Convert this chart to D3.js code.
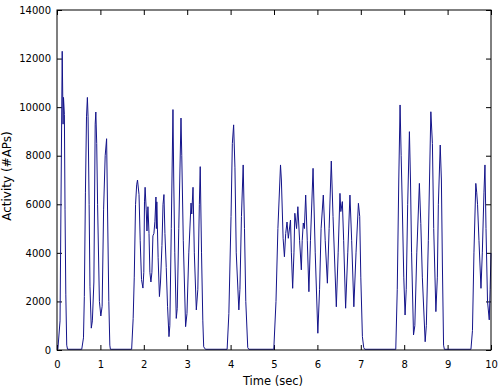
<!DOCTYPE html>
<html>
<head>
<meta charset="utf-8">
<script src="https://cdn.jsdelivr.net/npm/d3@7"></script>
<style>
  body { margin: 0; background: #fff; }
  text { font-family: "DejaVu Sans", Verdana, sans-serif; }
</style>
</head>
<body>
<div id="chart"></div>
<script>
// time in sec / activity in #APs
var timeSec = [0, 0.02, 0.07, 0.12, 0.14, 0.15, 0.17, 0.185, 0.203, 0.224, 0.243,
  0.57, 0.61, 0.63, 0.655, 0.68, 0.70, 0.716, 0.74, 0.76, 0.79, 0.815, 0.85, 0.88, 0.895, 0.915, 0.935, 0.977, 1.01, 1.04, 1.074, 1.11, 1.143, 1.166, 1.194, 1.217, 1.23,
  1.72, 1.755, 1.78, 1.81, 1.836, 1.855, 1.89, 1.917, 1.947, 1.98, 2.0, 2.016, 2.03, 2.055, 2.073, 2.095, 2.12, 2.14, 2.164, 2.187, 2.21, 2.233, 2.256, 2.28, 2.29, 2.30, 2.33, 2.36, 2.385, 2.418, 2.443, 2.464, 2.487, 2.517, 2.547, 2.58, 2.60, 2.633, 2.672, 2.69, 2.714, 2.748, 2.77, 2.806, 2.857, 2.875, 2.91, 2.963, 2.995, 3.037, 3.088, 3.105, 3.134, 3.164, 3.21, 3.245, 3.28, 3.30, 3.33, 3.36, 3.38, 3.42,
  3.92, 3.96, 4.01, 4.04, 4.07, 4.10, 4.13, 4.19, 4.215, 4.25, 4.29, 4.32, 4.35, 4.395, 4.42,
  4.995, 5.046, 5.09, 5.15, 5.17, 5.21, 5.24, 5.27, 5.30, 5.33, 5.38, 5.40, 5.43, 5.46, 5.48, 5.52, 5.55, 5.59, 5.63, 5.65, 5.675, 5.70, 5.73, 5.767, 5.804, 5.84, 5.90, 5.95, 6.01, 6.05, 6.085, 6.136, 6.18, 6.23, 6.27, 6.32, 6.36, 6.436, 6.478, 6.52, 6.54, 6.575, 6.605, 6.65, 6.70, 6.75, 6.79, 6.84, 6.89, 6.945, 6.975, 7.0, 7.037, 7.067, 7.09,
  7.806, 7.84, 7.875, 7.905, 7.93, 7.96, 7.99, 8.02, 8.047, 8.08, 8.12, 8.145, 8.17, 8.215, 8.245, 8.29, 8.35, 8.383, 8.418, 8.483, 8.51, 8.556, 8.614, 8.65, 8.68, 8.73, 8.764, 8.787, 8.83, 8.857, 8.88, 8.907, 8.925,
  9.538, 9.573, 9.607, 9.65, 9.67, 9.69, 9.723, 9.769, 9.80, 9.838, 9.861, 9.885, 9.92, 9.96, 9.98, 10.0];

var activity = [30, 30, 1200, 12300, 9300, 10400, 9700, 5800, 2300, 200, 30,
  30, 500, 2200, 6500, 9600, 10400, 9600, 6000, 2600, 900, 1200, 2800, 9300, 9800, 8500, 6000, 2000, 1400, 1800, 5800, 8000, 8700, 5600, 2000, 200, 30,
  30, 1300, 3000, 6000, 6800, 7000, 6400, 4500, 2900, 2550, 3200, 6100, 6700, 5800, 4900, 5900, 4800, 3200, 2800, 3200, 4700, 4800, 5300, 6300, 5000, 6100, 3800, 2200, 2800, 4300, 6000, 6400, 4800, 3400, 1800, 550, 1000, 5000, 9900, 7000, 4000, 1300, 1700, 5000, 9550, 8000, 4500, 960, 1500, 4000, 6050, 5600, 6700, 4000, 1650, 2500, 6000, 7550, 4000, 1200, 130, 30,
  30, 1500, 5500, 8500, 9270, 7500, 4000, 1650, 2500, 5500, 7620, 5000, 2000, 100, 30,
  30, 2000, 5000, 7620, 7000, 4600, 3840, 4800, 5270, 4600, 5350, 4000, 2540, 4000, 5630, 5000, 5900, 4500, 3300, 4500, 5230, 5000, 6380, 4500, 2400, 4500, 7480, 4000, 690, 2500, 5000, 6380, 4500, 2750, 5000, 7780, 5500, 1780, 4000, 6450, 5700, 6110, 4500, 1720, 4000, 6380, 4500, 1780, 4000, 6040, 5500, 3000, 550, 100, 30,
  30, 2500, 7000, 10090, 8000, 5600, 3000, 1440, 2500, 6000, 8990, 7000, 4000, 620, 1000, 4000, 6860, 5200, 3000, 340, 1000, 4500, 9810, 8500, 5000, 1580, 3000, 6000, 8440, 7000, 3500, 200, 30,
  30, 800, 4000, 6860, 6500, 6000, 4500, 2540, 4000, 6500, 7620, 5000, 2000, 1240, 2500, 3990];

var xTicks = [0, 1, 2, 3, 4, 5, 6, 7, 8, 9, 10];
var yTicks = [0, 2000, 4000, 6000, 8000, 10000, 12000, 14000];

const W = 504, H = 392;
const margin = {left: 57, right: 13, top: 10, bottom: 42};
const iw = W - margin.left - margin.right;
const ih = H - margin.top - margin.bottom;

let svg = d3.select("#chart").append("svg")
  .attr("width", W)
  .attr("height", H);

let g = svg.append("g").attr("transform", `translate(${margin.left},${margin.top})`);

let x = d3.scaleLinear().domain([0, 10]).range([0, iw]);
let y = d3.scaleLinear().domain([0, 14000]).range([ih, 0]);

function tickStyle(sel) {
  sel.select(".domain").remove();
  sel.selectAll("line").attr("stroke", "#000");
  sel.selectAll("text").attr("font-size", "10px").attr("fill", "#000");
}

// ticks point inward, matlab style
g.append("g").attr("transform", `translate(0,${ih})`)
  .call(d3.axisBottom(x).tickValues(xTicks).tickSize(-5).tickPadding(11).tickFormat(d3.format("d")))
  .call(tickStyle);
g.append("g")
  .call(d3.axisTop(x).tickValues(xTicks).tickSize(-5).tickFormat(""))
  .call(tickStyle);
g.append("g")
  .call(d3.axisLeft(y).tickValues(yTicks).tickSize(-5).tickPadding(6).tickFormat(d3.format("d")))
  .call(tickStyle);
g.append("g").attr("transform", `translate(${iw},0)`)
  .call(d3.axisRight(y).tickValues(yTicks).tickSize(-5).tickFormat(""))
  .call(tickStyle);

let pts = timeSec.map((t, i) => [t, activity[i]]);
g.append("path")
  .datum(pts)
  .attr("fill", "none")
  .attr("stroke", "#14148a")
  .attr("stroke-width", 1)
  .attr("d", d3.line().x(d => x(d[0])).y(d => y(d[1])));

g.append("rect")
  .attr("width", iw).attr("height", ih)
  .attr("fill", "none").attr("stroke", "#000").attr("stroke-width", 1);

svg.append("text")
  .attr("x", margin.left + iw / 2 - 1).attr("y", 385)
  .attr("text-anchor", "middle").attr("font-size", "11.5px")
  .text("Time (sec)");

svg.append("text")
  .attr("transform", `translate(11,176) rotate(-90)`)
  .attr("text-anchor", "middle").attr("font-size", "12px")
  .text("Activity (#APs)");
</script>
</body>
</html>
